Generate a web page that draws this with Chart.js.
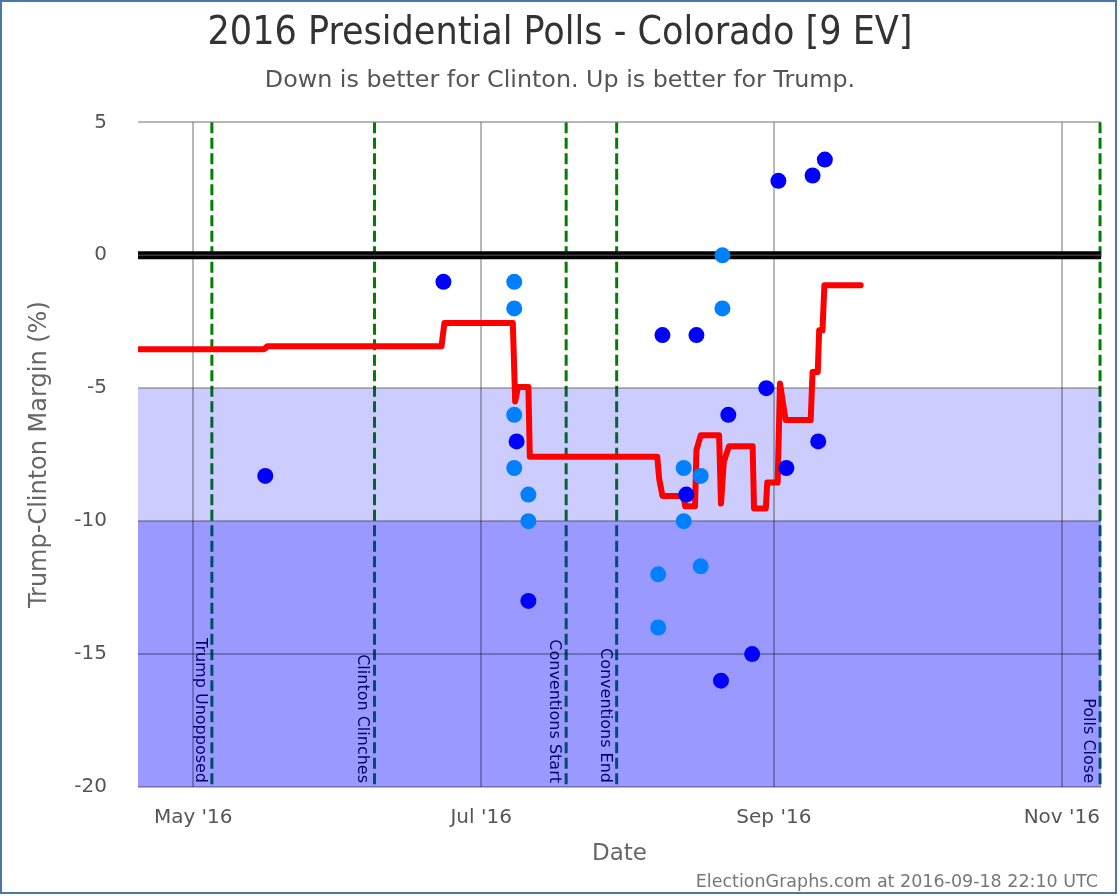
<!DOCTYPE html>
<html>
<head>
<meta charset="utf-8">
<script src="https://cdn.jsdelivr.net/npm/chart.js@4.4.0/dist/chart.umd.min.js"></script>
<style>
html,body{margin:0;padding:0;background:#ffffff;}
#wrap{position:relative;width:1120px;height:896px;}
</style>
</head>
<body>
<div id="wrap"><canvas id="c" width="1120" height="896"></canvas></div>
<script>
// All x values are days since 2016-01-01 (Jan 1 = 0)
const xMin = 109.3;
const xMax = 313.3;
const xTickDays = [121, 182, 244, 305];
const xTickLabels = ["May '16", "Jul '16", "Sep '16", "Nov '16"];
const yTicks = [5, 0, -5, -10, -15, -20];

const eventDays = [124.95, 159.4, 200.0, 210.7, 313.1];
const eventLabels = ['Trump Unopposed', 'Clinton Clinches', 'Conventions Start', 'Conventions End', 'Polls Close'];

const bandFrom = [-5, -10];
const bandTo = [-10, -20];
const bandColors = ['rgba(0,0,255,0.2)', 'rgba(0,0,255,0.4)'];

// Polls (dark blue)
const darkDays = [136.26, 174.0, 189.5, 192.0, 220.4, 225.45, 227.6, 234.35, 232.8, 239.4, 242.4, 244.96, 246.65, 252.2, 253.4, 254.8];
const darkVals = [-8.3, -1, -7, -13, -3, -9, -3, -6, -16, -15, -5, 2.8, -8, 3, -7, 3.6];
// Polls (light blue)
const lightDays = [189.0, 189.0, 189.0, 189.0, 192.0, 192.0, 219.5, 219.5, 224.9, 224.9, 228.5, 228.5, 233.1, 233.1];
const lightVals = [-1, -2, -6, -8, -9, -10, -12, -14, -8, -10, -8.3, -11.7, 0, -2];

// Poll average (red)
const avgDays = [109.3, 136.05, 136.7, 173.6, 174.2, 188.7, 189.2, 189.8, 192.0, 192.3, 219.3, 219.7, 220.4, 224.9, 225.2, 227.3, 227.6, 228.5, 232.4, 232.8, 233.4, 234.5, 239.5, 239.8, 242.3, 242.6, 244.8, 245.3, 246.5, 251.8, 252.2, 253.3, 253.6, 254.3, 254.7, 262.4];
const avgVals = [-3.53, -3.53, -3.42, -3.42, -2.55, -2.55, -5.5, -4.95, -4.95, -7.58, -7.58, -8.4, -9.05, -9.05, -9.44, -9.44, -7.33, -6.77, -6.77, -9.34, -7.77, -7.18, -7.18, -9.52, -9.52, -8.55, -8.55, -4.82, -6.2, -6.2, -4.39, -4.39, -2.82, -2.82, -1.13, -1.13];

const titleText = '2016 Presidential Polls - Colorado [9 EV]';
const subtitleText = 'Down is better for Clinton. Up is better for Trump.';
const footerText = 'ElectionGraphs.com at 2016-09-18 22:10 UTC';

const COND = "'DejaVu Sans Condensed', 'DejaVu Sans', sans-serif";
const SANS = "'DejaVu Sans', sans-serif";
Chart.defaults.font.family = SANS;

const pts = (xs, ys) => xs.map((x, i) => ({x: x, y: ys[i]}));

const backdrop = {
  id: 'backdrop',
  beforeDraw(chart) {
    const {ctx, chartArea: a, scales: {x, y}} = chart;
    ctx.save();
    ctx.beginPath();
    ctx.rect(a.left, a.top, a.right - a.left + 3, a.bottom - a.top);
    ctx.clip();
    eventDays.forEach((d, i) => {
      const px = x.getPixelForValue(d);
      ctx.save();
      ctx.strokeStyle = 'rgb(0,128,0)';
      ctx.lineWidth = 3;
      ctx.setLineDash([11, 4.5]);
      ctx.beginPath();
      ctx.moveTo(px, a.top);
      ctx.lineTo(px, a.bottom);
      ctx.stroke();
      ctx.restore();
      ctx.save();
      ctx.translate(px - 4, a.bottom - 4);
      ctx.rotate(Math.PI / 2);
      ctx.font = "16px " + SANS;
      ctx.fillStyle = '#000';
      ctx.textAlign = 'right';
      ctx.textBaseline = 'top';
      ctx.fillText(eventLabels[i], 0, 0);
      ctx.restore();
    });
    bandFrom.forEach((v, i) => {
      const y1 = y.getPixelForValue(v);
      const y2 = y.getPixelForValue(bandTo[i]);
      ctx.fillStyle = bandColors[i];
      ctx.fillRect(a.left, y1, a.right - a.left, y2 - y1);
    });
    ctx.restore();
  },
  afterDraw(chart) {
    const {ctx} = chart;
    ctx.save();
    ctx.font = "17.5px " + SANS;
    ctx.fillStyle = '#777';
    ctx.textAlign = 'right';
    ctx.textBaseline = 'alphabetic';
    ctx.fillText(footerText, 1098, 887);
    ctx.strokeStyle = '#4a76a8';
    ctx.lineWidth = 2;
    ctx.strokeRect(1, 1, 1115, 892);
    ctx.restore();
  }
};

new Chart(document.getElementById('c'), {
  type: 'scatter',
  data: {
    datasets: [
      {label: 'Polls', data: pts(darkDays, darkVals), backgroundColor: '#0000ff', borderWidth: 0, pointRadius: 8, order: 1},
      {label: 'Polls (multi)', data: pts(lightDays, lightVals), backgroundColor: '#0080ff', borderWidth: 0, pointRadius: 8, order: 2},
      {label: 'Average', type: 'line', data: pts(avgDays, avgVals), borderColor: '#ff0000', borderWidth: 6, pointRadius: 0, fill: false, tension: 0, borderJoinStyle: 'round', borderCapStyle: 'round', order: 3},
      {label: 'zero stripe', type: 'line', data: pts([xMin, xMax], [0, 0]), borderColor: '#3a3a3a', borderWidth: 1.5, pointRadius: 0, fill: false, order: 4},
      {label: 'zero', type: 'line', data: pts([xMin, xMax], [0, 0]), borderColor: '#000000', borderWidth: 8, pointRadius: 0, fill: false, order: 5}
    ]
  },
  options: {
    responsive: false,
    animation: false,
    layout: {padding: {top: 0, right: 0, bottom: 27, left: 0}},
    plugins: {
      legend: {display: false},
      tooltip: {enabled: false},
      title: {display: true, text: titleText, color: '#333', font: {size: 39, weight: 'normal', family: COND}, padding: {top: 10, bottom: 8}},
      subtitle: {display: true, text: subtitleText, color: '#555', font: {size: 23.8, weight: 'normal', family: SANS}, padding: {top: 2, bottom: 27}}
    },
    scales: {
      x: {
        type: 'linear', min: xMin, max: xMax,
        afterBuildTicks: s => { s.ticks = xTickDays.map(v => ({value: v})); },
        afterFit: s => { s.height = 896 - 787 - 27; },
        ticks: {
          callback: v => { const i = xTickDays.indexOf(v); return i >= 0 ? xTickLabels[i] : ''; },
          font: {size: 20}, color: '#555', padding: 19, maxRotation: 0, autoSkip: false
        },
        grid: {color: 'rgba(0,0,0,0.28)', lineWidth: 2, drawTicks: false},
        border: {display: false},
        title: {display: true, text: 'Date', color: '#666', font: {size: 23}, padding: {top: 4, bottom: 1}}
      },
      y: {
        min: -20, max: 5,
        afterBuildTicks: s => { s.ticks = yTicks.map(v => ({value: v})); },
        afterFit: s => { s.width = 138; },
        ticks: {font: {size: 20}, color: '#555', padding: 31},
        grid: {color: 'rgba(0,0,0,0.28)', lineWidth: 2, drawTicks: false},
        border: {display: false},
        title: {display: true, text: 'Trump-Clinton Margin (%)', color: '#666', font: {size: 24}, padding: {top: 25, bottom: 4}}
      },
      ySpacer: {
        position: 'right', display: true,
        afterFit: s => { s.width = 19; },
        ticks: {display: false},
        grid: {display: false, drawTicks: false},
        border: {display: false}
      }
    }
  },
  plugins: [backdrop]
});
</script>
</body>
</html>
